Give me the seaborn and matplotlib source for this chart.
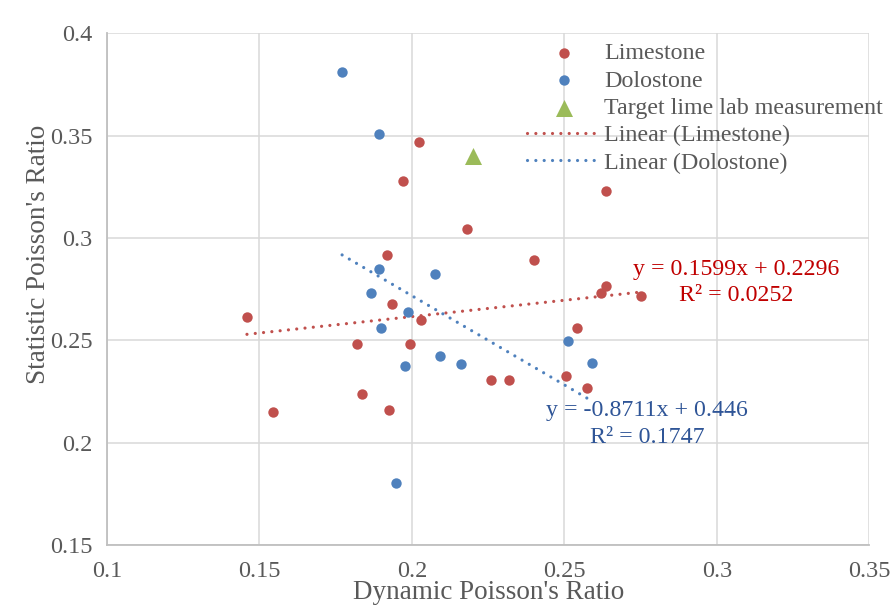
import matplotlib
matplotlib.use("Agg")
import matplotlib.pyplot as plt
import numpy as np
import pandas as pd
import seaborn as sns

# Dynamic vs. static Poisson's ratio measurements
lime_dyn = [0.2024, 0.1971, 0.2638, 0.1917, 0.1934, 0.1459, 0.1819, 0.1836,
            0.1545, 0.1924, 0.2181, 0.2400, 0.2636, 0.2619, 0.2752, 0.2030,
            0.2540, 0.1994, 0.2505, 0.2258, 0.2320, 0.2574]
lime_stat = [0.3469, 0.3278, 0.3231, 0.2915, 0.2677, 0.2612, 0.2481, 0.2236,
             0.2148, 0.2160, 0.3044, 0.2890, 0.2765, 0.2729, 0.2716, 0.2599,
             0.2560, 0.2481, 0.2327, 0.2307, 0.2307, 0.2265]

dolo_dyn = [0.1771, 0.1893, 0.1891, 0.1865, 0.1898, 0.1948, 0.2075, 0.1987,
            0.2512, 0.2091, 0.1977, 0.2162, 0.2591]
dolo_stat = [0.3809, 0.3506, 0.2847, 0.2729, 0.2561, 0.1805, 0.2822, 0.2639,
             0.2495, 0.2421, 0.2375, 0.2383, 0.2387]

target_dyn = [0.2201]
target_stat = [0.340]

# Linear trendline coefficients
lime_slope, lime_icpt, lime_r2 = 0.1599, 0.2296, 0.0252
dolo_slope, dolo_icpt, dolo_r2 = -0.8711, 0.446, 0.1747

x_ticks = [0.1, 0.15, 0.2, 0.25, 0.3, 0.35]
y_ticks = [0.15, 0.2, 0.25, 0.3, 0.35, 0.4]

RED = "#C0504D"
BLUE = "#4F81BD"
GREEN = "#9BBB59"
GRAY_TXT = "#595959"

sns.set_theme(style="whitegrid")
plt.rcParams["font.family"] = ["Liberation Serif", "DejaVu Serif"]

fig = plt.figure(figsize=(8.95, 6.12), dpi=100)
ax = fig.add_axes([107 / 895, 1 - 545 / 612, (869.3 - 107) / 895, (545 - 33.3) / 612])

lime = pd.DataFrame({"dyn": lime_dyn, "stat": lime_stat})
dolo = pd.DataFrame({"dyn": dolo_dyn, "stat": dolo_stat})
target = pd.DataFrame({"dyn": target_dyn, "stat": target_stat})

sns.scatterplot(data=lime, x="dyn", y="stat", color=RED, s=56, linewidth=0,
                label="Limestone", ax=ax, zorder=3)
sns.scatterplot(data=dolo, x="dyn", y="stat", color=BLUE, s=56, linewidth=0,
                label="Dolostone", ax=ax, zorder=3)
sns.scatterplot(data=target, x="dyn", y="stat", color=GREEN, marker="^", s=150,
                linewidth=0, label="Target lime lab measurement", ax=ax, zorder=3)

# Trendlines over each series' x-range
lx = np.array([min(lime_dyn), max(lime_dyn)])
dx = np.array([min(dolo_dyn), max(dolo_dyn)])
lime_fit = pd.DataFrame({"dyn": lx, "stat": lime_slope * lx + lime_icpt})
dolo_fit = pd.DataFrame({"dyn": dx, "stat": dolo_slope * dx + dolo_icpt})

dot_style = dict(linewidth=2.3, linestyle=(0, (0.01, 2.6)), dash_capstyle="round")
sns.lineplot(data=lime_fit, x="dyn", y="stat", color=RED, label="Linear (Limestone)",
             ax=ax, zorder=2, **dot_style)
sns.lineplot(data=dolo_fit, x="dyn", y="stat", color=BLUE, label="Linear (Dolostone)",
             ax=ax, zorder=2, **dot_style)

# Trendline equations
eq_size = 17.2
ax.text(0.3063, 0.2819, f"y = {lime_slope}x + {lime_icpt}", color="#C00000",
        fontsize=eq_size, ha="center", va="baseline")
ax.text(0.3063, 0.2692, f"R² = {lime_r2:.4f}", color="#C00000",
        fontsize=eq_size, ha="center", va="baseline")
ax.text(0.2771, 0.2130, f"y = {dolo_slope}x + {dolo_icpt}", color="#2F5597",
        fontsize=eq_size, ha="center", va="baseline")
ax.text(0.2771, 0.1998, f"R² = {dolo_r2:.4f}", color="#2F5597",
        fontsize=eq_size, ha="center", va="baseline")

ax.set_xlim(0.1, 0.35)
ax.set_ylim(0.15, 0.4)
ax.set_xticks(x_ticks)
ax.set_yticks(y_ticks)
ax.set_xticklabels([f"{v:g}" for v in x_ticks])
ax.set_yticklabels([f"{v:g}" for v in y_ticks])
ax.tick_params(axis="both", length=0, labelsize=17.5, labelcolor=GRAY_TXT)
ax.tick_params(axis="x", pad=11.5)
ax.tick_params(axis="y", pad=10.5)

ax.grid(True, color="#D9D9D9", linewidth=1.1)
ax.set_axisbelow(True)
for side in ("top", "right"):
    ax.spines[side].set_visible(False)
for side in ("left", "bottom"):
    ax.spines[side].set_visible(True)
    ax.spines[side].set_color("#BFBFBF")
    ax.spines[side].set_linewidth(1.3)
ax.set_facecolor("white")

ax.set_xlabel("Dynamic Poisson's Ratio", fontsize=19.5, color=GRAY_TXT)
ax.set_ylabel("Statistic Poisson's Ratio", fontsize=19.5, color=GRAY_TXT)
ax.xaxis.set_label_coords(0.5005, -0.0684)
ax.yaxis.set_label_coords(-0.0735, 0.5687)

handles, labels = ax.get_legend_handles_labels()
ax.legend(handles, labels, loc="upper left",
          bbox_to_anchor=(527 / 895, 1 - 42.5 / 612), bbox_transform=fig.transFigure,
          frameon=False, fontsize=17.3, labelcolor=GRAY_TXT, borderpad=0,
          borderaxespad=0, handlelength=3.04, handletextpad=0.17,
          labelspacing=0.23, scatterpoints=1, markerscale=1.0)

fig.savefig("out.png", dpi=100, facecolor="white")
